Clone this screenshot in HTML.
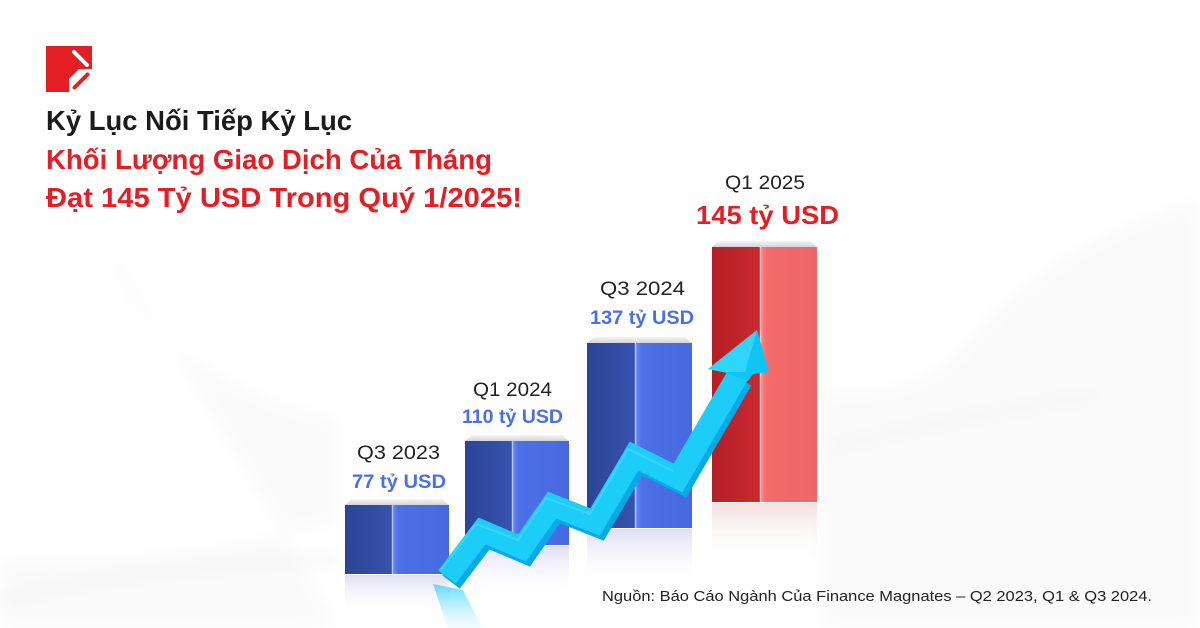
<!DOCTYPE html>
<html>
<head>
<meta charset="utf-8">
<style>
  html,body{margin:0;padding:0;background:#ffffff;}
  svg{display:block;}
  text{font-family:"Liberation Sans","DejaVu Sans",sans-serif;}
</style>
</head>
<body>
<svg width="1200" height="628" viewBox="0 0 1200 628" xmlns="http://www.w3.org/2000/svg">
  <defs>
    <filter id="blur8" x="-50%" y="-50%" width="200%" height="200%"><feGaussianBlur stdDeviation="8"/></filter>
    <linearGradient id="bL" x1="0" x2="1" y1="0" y2="0">
      <stop offset="0" stop-color="#2b4496"/>
      <stop offset="1" stop-color="#3853ad"/>
    </linearGradient>
    <linearGradient id="bR" x1="0" x2="1" y1="0" y2="0">
      <stop offset="0" stop-color="#6a8cf4"/>
      <stop offset="0.12" stop-color="#4d70e6"/>
      <stop offset="1" stop-color="#4769e0"/>
    </linearGradient>
    <linearGradient id="rL" x1="0" x2="1" y1="0" y2="0">
      <stop offset="0" stop-color="#b41f25"/>
      <stop offset="1" stop-color="#c92a2f"/>
    </linearGradient>
    <linearGradient id="rR" x1="0" x2="1" y1="0" y2="0">
      <stop offset="0" stop-color="#ff8a8a"/>
      <stop offset="0.12" stop-color="#f26c6c"/>
      <stop offset="1" stop-color="#ee6566"/>
    </linearGradient>
    <linearGradient id="topF" x1="0" x2="0" y1="0" y2="1">
      <stop offset="0" stop-color="#f4f4f6"/>
      <stop offset="1" stop-color="#d4d4da"/>
    </linearGradient>
    <linearGradient id="refl" x1="0" x2="0" y1="0" y2="1">
      <stop offset="0" stop-color="#dcd9f2" stop-opacity="0.9"/>
      <stop offset="1" stop-color="#ffffff" stop-opacity="0"/>
    </linearGradient>
    <linearGradient id="reflR" x1="0" x2="0" y1="0" y2="1">
      <stop offset="0" stop-color="#f3d6d6" stop-opacity="0.8"/>
      <stop offset="1" stop-color="#ffffff" stop-opacity="0"/>
    </linearGradient>
    <linearGradient id="arRefl" x1="0" x2="0" y1="0" y2="1">
      <stop offset="0" stop-color="#3fd3fb" stop-opacity="0.8"/>
      <stop offset="1" stop-color="#bff0ff" stop-opacity="0.2"/>
    </linearGradient>
  </defs>

  <!-- background swooshes (very subtle) -->
  <rect width="1200" height="628" fill="#ffffff"/>
  <g filter="url(#blur8)">
    <path d="M1200 200 C 1080 230, 1000 300, 960 350 C 920 390, 870 395, 820 390 L 820 628 L 1200 628 Z" fill="#fafafa"/>
    <path d="M820 450 C 900 430, 1000 410, 1100 395" stroke="#f4f4f4" stroke-width="6" fill="none"/>
    <path d="M100 230 C 130 330, 190 380, 340 420 L 340 520 C 200 560, 100 560, 0 560 L 0 628 L 340 628 Z" fill="#fafafa"/>
    <path d="M0 600 C 120 570, 250 560, 340 560" stroke="#f4f4f4" stroke-width="8" fill="none"/>
  </g>

  <!-- logo -->
  <rect x="46" y="46" width="46" height="46" fill="#e41e25"/>
  <polygon points="69,93 69,79 79,69 93,69 93,93" fill="#ffffff"/>
  <line x1="74.5" y1="87.5" x2="87.5" y2="74.5" stroke="#e41e25" stroke-width="4" stroke-linecap="round"/>
  <line x1="74" y1="52" x2="87" y2="65" stroke="#ffffff" stroke-width="4" stroke-linecap="round"/>

  <!-- title -->
  <text x="46" y="130" font-size="28" font-weight="bold" fill="#1b1b1b" textLength="306" lengthAdjust="spacingAndGlyphs">Kỷ Lục Nối Tiếp Kỷ Lục</text>
  <text x="46" y="169" font-size="28" font-weight="bold" fill="#e31e24" textLength="446" lengthAdjust="spacingAndGlyphs">Khối Lượng Giao Dịch Của Tháng</text>
  <text x="46" y="207" font-size="28" font-weight="bold" fill="#e31e24" textLength="476" lengthAdjust="spacingAndGlyphs">Đạt 145 Tỷ USD Trong Quý 1/2025!</text>

  <!-- reflections -->
  <rect x="345" y="575" width="104" height="40" fill="url(#refl)"/>
  <rect x="465" y="546" width="104" height="50" fill="url(#refl)"/>
  <rect x="587" y="529" width="105" height="55" fill="url(#refl)"/>
  <rect x="712" y="503" width="105" height="60" fill="url(#reflR)"/>

  <!-- bar 1 -->
  <polygon points="345,505 352,499 442,499 449,505" fill="url(#topF)"/>
  <rect x="345" y="505" width="47" height="69" fill="url(#bL)"/>
  <rect x="392" y="505" width="57" height="69" fill="url(#bR)"/>
  <line x1="392.5" y1="505" x2="392.5" y2="574" stroke="#c9d4ff" stroke-width="1.5" opacity="0.8"/>
  <!-- bar 2 -->
  <polygon points="465,441 472,435 562,435 569,441" fill="url(#topF)"/>
  <rect x="465" y="441" width="47" height="104" fill="url(#bL)"/>
  <rect x="512" y="441" width="57" height="104" fill="url(#bR)"/>
  <line x1="512.5" y1="441" x2="512.5" y2="545" stroke="#c9d4ff" stroke-width="1.5" opacity="0.8"/>
  <!-- bar 3 -->
  <polygon points="587,343 594,337 685,337 692,343" fill="url(#topF)"/>
  <rect x="587" y="343" width="48" height="185" fill="url(#bL)"/>
  <rect x="635" y="343" width="57" height="185" fill="url(#bR)"/>
  <line x1="635.5" y1="343" x2="635.5" y2="528" stroke="#c9d4ff" stroke-width="1.5" opacity="0.8"/>
  <!-- bar 4 -->
  <polygon points="712,247 719,241 810,241 817,247" fill="url(#topF)"/>
  <rect x="712" y="247" width="48" height="255" fill="url(#rL)"/>
  <rect x="760" y="247" width="57" height="255" fill="url(#rR)"/>
  <line x1="760.5" y1="247" x2="760.5" y2="502" stroke="#ffd0d0" stroke-width="1.5" opacity="0.8"/>

  <!-- arrow reflection -->
  <polygon points="433,584 463,590 482,628 448,628" fill="url(#arRefl)"/>

  <!-- arrow -->
  <polyline points="451,582 486,536 526,553 556,510 599,527 638,461 682,483 742,380"
            fill="none" stroke="#0aa8e4" stroke-width="22" stroke-linejoin="miter" stroke-miterlimit="10"/>
  <polyline points="447,577 482,531 522,548 552,505 595,522 634,456 678,478 738,375"
            fill="none" stroke="#1ccdf8" stroke-width="22" stroke-linejoin="miter" stroke-miterlimit="10"/>
  <polyline points="440,571 476,524 518,540 546,498 590,514 628,449 673,471"
            fill="none" stroke="#4cdcfb" stroke-width="2" opacity="0.6"/>
  <polygon points="708,369 757,330 769,372 753,374 748,381 723,372" fill="#0fc4f3"/>
  <polygon points="708,369 757,330 745,372 723,372" fill="#2fd5fa"/>

  <!-- labels -->
  <text x="357" y="459" font-size="19" fill="#222222" textLength="83" lengthAdjust="spacingAndGlyphs">Q3 2023</text>
  <text x="352" y="488" font-size="19" font-weight="bold" fill="#4a6fe8" textLength="94" lengthAdjust="spacingAndGlyphs">77 tỷ USD</text>
  <text x="473" y="396" font-size="19" fill="#222222" textLength="79" lengthAdjust="spacingAndGlyphs">Q1 2024</text>
  <text x="462" y="423" font-size="19" font-weight="bold" fill="#4a6fe8" textLength="101" lengthAdjust="spacingAndGlyphs">110 tỷ USD</text>
  <text x="600" y="295" font-size="19" fill="#222222" textLength="85" lengthAdjust="spacingAndGlyphs">Q3 2024</text>
  <text x="590" y="324" font-size="19" font-weight="bold" fill="#4a6fe8" textLength="104" lengthAdjust="spacingAndGlyphs">137 tỷ USD</text>
  <text x="725" y="189" font-size="19" fill="#222222" textLength="80" lengthAdjust="spacingAndGlyphs">Q1 2025</text>
  <text x="696" y="224" font-size="26" font-weight="bold" fill="#e31e24" textLength="143" lengthAdjust="spacingAndGlyphs">145 tỷ USD</text>

  <!-- footer -->
  <text x="602" y="601" font-size="15" fill="#222222" textLength="550" lengthAdjust="spacingAndGlyphs">Nguồn: Báo Cáo Ngành Của Finance Magnates – Q2 2023, Q1 &amp; Q3 2024.</text>
</svg>
</body>
</html>
